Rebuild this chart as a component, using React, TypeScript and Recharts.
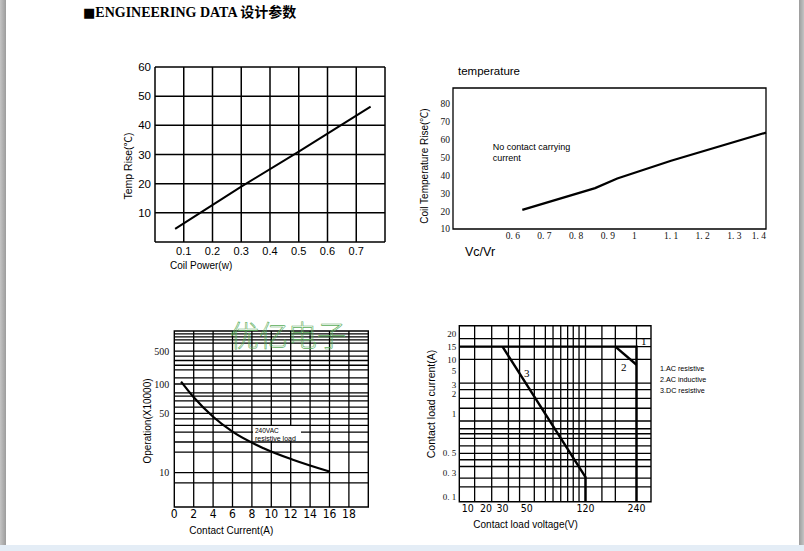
import React from 'react';
import {
  LineChart,
  Line,
  XAxis,
  YAxis,
  CartesianGrid,
  ReferenceLine,
  ReferenceArea,
} from 'recharts';

const SANS = 'Arial, "Liberation Sans", Helvetica, "Noto Sans CJK SC", sans-serif';
const NARROW = '"Liberation Sans Narrow", "DejaVu Sans Condensed", Arial, sans-serif';
const SERIF = '"Times New Roman", "Liberation Serif", "Noto Sans CJK SC", serif';

// 1. coil power vs temp rise
const COIL_POWER = [0.07, 0.3, 0.5, 0.75];
const TEMP_RISE = [4.5, 19, 31, 46.4];
const POWER_TICKS = [0, 0.1, 0.2, 0.3, 0.4, 0.5, 0.6, 0.7, 0.8];
const RISE_TICKS = [0, 10, 20, 30, 40, 50, 60];

// 2. Vc/Vr vs coil temperature rise
const VC_VR = [0.63, 0.86, 0.93, 1.1, 1.4];
const COIL_TEMP = [20.7, 32.9, 38.3, 48.2, 64];
const VR_TICKS = [0.6, 0.7, 0.8, 0.9, 1, 1.1, 1.2, 1.3, 1.4];
const COIL_TEMP_TICKS = [10, 20, 30, 40, 50, 60, 70, 80];

// 3. contact current vs operations (x10000)
const CONTACT_CURRENT = [0.7, 2, 4, 6, 9.2, 12.3, 16];
const OPERATIONS = [112, 73, 45.6, 30.4, 19.4, 14.1, 10.3];
const CURRENT_TICKS = [0, 2, 4, 6, 8, 10, 12, 14, 16, 18];
const CURRENT_GRID = [2, 4, 6, 8, 10, 12, 14, 16, 18];
const OP_LABELS = [10, 50, 100, 500];
const OP_GRID = [7.6, 10, 17.5, 23, 30, 36, 43, 50, 58, 67, 75, 81, 100, 135, 200, 250, 315, 390, 500, 730, 850, 980, 1130];
// printed graduation of the log axis: value -> fraction of axis height
const OP_STOPS: [number, number][] = [[4, 0], [10, 0.195], [50, 0.532], [100, 0.699], [500, 0.886], [1300, 1]];

// 4. contact load voltage vs current
const AC_RES_V = [7.2, 240, 240];
const AC_RES_A = [15, 15, 0.079];
const AC_IND_V = [180, 240];
const AC_IND_A = [15, 7.2];
const DC_RES_V = [30, 120, 120];
const DC_RES_A = [15, 0.25, 0.079];
const VOLT_LABELS = [10, 20, 30, 50, 120, 240];
const VOLT_GRID = [13, 23, 34, 43, 56, 66, 74, 83, 92, 100, 109, 120, 150, 180, 240];
const AMP_LABELS = [0.1, 0.3, 0.5, 1, 2, 3, 5, 10, 15, 20];
const AMP_GRID = [0.158, 0.24, 0.357, 0.424, 0.5, 0.569, 0.651, 0.706, 0.771, 0.884, 1.22, 1.72, 2.43, 3.2, 10, 15, 18];
const VOLT_STOPS: [number, number][] = [[7.2, 0], [10, 0.0438], [20, 0.1393], [30, 0.2254], [50, 0.3516], [120, 0.6583], [240, 0.9244], [292, 1]];
const AMP_STOPS: [number, number][] = [[0.079, 0], [0.1, 0.0284], [0.3, 0.1614], [0.5, 0.275], [1, 0.4983], [2, 0.612], [3, 0.663], [5, 0.744], [10, 0.809], [15, 0.881], [20, 0.953], [24, 1]];

function grad(v: number, stops: [number, number][]) {
  const lv = Math.log10(v);
  for (let i = 0; i < stops.length - 1; i++) {
    const [a, pa] = stops[i];
    const [b, pb] = stops[i + 1];
    if (v <= b || i === stops.length - 2) {
      const t = (lv - Math.log10(a)) / (Math.log10(b) - Math.log10(a));
      return pa + t * (pb - pa);
    }
  }
  return 0;
}

const opPos = (v: number) => grad(v, OP_STOPS);
const voltPos = (v: number) => grad(v, VOLT_STOPS);
const ampPos = (v: number) => grad(v, AMP_STOPS);

const serifNum = (v: number) => (v < 1 || (v > 1 && v < 2) ? v.toFixed(1).replace('.', '. ') : String(v));

const GRID_STROKE = '#000';

function Txt({
  x,
  y,
  size,
  children,
  font = SANS,
  weight = 400,
  rotate = false,
  color = '#000',
}: {
  x: number;
  y: number;
  size: number;
  children: React.ReactNode;
  font?: string;
  weight?: number;
  rotate?: boolean;
  color?: string;
}) {
  return (
    <div
      style={{
        position: 'absolute',
        left: x,
        top: y,
        fontSize: size,
        fontFamily: font,
        fontWeight: weight,
        lineHeight: 1,
        whiteSpace: 'nowrap',
        color,
        transform: rotate ? 'translate(-50%, -50%) rotate(-90deg)' : 'translateY(-50%)',
      }}
    >
      {children}
    </div>
  );
}

function VrTick(props: any) {
  const { x, y, payload } = props;
  const last = payload.value === 1.4;
  return (
    <text
      x={payload.value === 1 ? x - 5 : x}
      y={y}
      dy="0.71em"
      textAnchor={last ? 'end' : 'middle'}
      fontSize={9.5}
      fontFamily={SERIF}
      fill="#111"
    >
      {payload.value === 1 ? '1' : serifNum(payload.value)}
    </text>
  );
}

function CoilPowerChart() {
  const data = COIL_POWER.map((x, i) => ({ x, y: TEMP_RISE[i] }));
  return (
    <div style={{ position: 'absolute', left: 110, top: 55 }}>
      <LineChart width={290} height={212} margin={{ top: 12, right: 15, bottom: 0, left: 0 }}>
        <CartesianGrid stroke={GRID_STROKE} strokeWidth={1.5} />
        <XAxis
          type="number"
          dataKey="x"
          domain={[0, 0.8]}
          ticks={POWER_TICKS}
          interval={0}
          tickFormatter={(v: number) => (v === 0 || v === 0.8 ? '' : String(v))}
          axisLine={false}
          tickLine={false}
          tickSize={0}
          tickMargin={5}
          height={25}
          tick={{ fontSize: 11, fill: '#000', fontFamily: SANS }}
        />
        <YAxis
          type="number"
          domain={[0, 60]}
          ticks={RISE_TICKS}
          interval={0}
          tickFormatter={(v: number) => (v === 0 ? '' : String(v))}
          axisLine={false}
          tickLine={false}
          tickSize={0}
          tickMargin={4}
          width={45}
          tick={{ fontSize: 11.5, fill: '#000', fontFamily: SANS }}
        />
        <Line data={data} dataKey="y" type="linear" stroke="#000" strokeWidth={2} dot={false} isAnimationActive={false} />
      </LineChart>
    </div>
  );
}

function CoilTempChart() {
  const data = VC_VR.map((x, i) => ({ x, y: COIL_TEMP[i] }));
  return (
    <div style={{ position: 'absolute', left: 400, top: 80 }}>
      <LineChart width={380} height={169} margin={{ top: 8, right: 14, bottom: 0, left: 0 }}>
        <ReferenceArea x1={0.411} x2={1.4} y1={10} y2={89} fill="none" stroke="#000" strokeWidth={1.3} />
        <XAxis
          type="number"
          dataKey="x"
          domain={[0.411, 1.4]}
          ticks={VR_TICKS}
          interval={0}
          axisLine={false}
          tickLine={false}
          tickSize={0}
          tickMargin={3}
          height={20}
          tick={<VrTick />}
        />
        <YAxis
          type="number"
          domain={[10, 89]}
          ticks={COIL_TEMP_TICKS}
          interval={0}
          axisLine={false}
          tickLine={false}
          tickSize={0}
          tickMargin={3}
          width={53}
          tick={{ fontSize: 9.5, fill: '#111', fontFamily: SERIF }}
        />
        <Line data={data} dataKey="y" type="linear" stroke="#000" strokeWidth={2.2} dot={false} isAnimationActive={false} />
      </LineChart>
    </div>
  );
}

function OperationChart() {
  const data = CONTACT_CURRENT.map((x, i) => ({ x, y: opPos(OPERATIONS[i]) }));
  return (
    <div style={{ position: 'absolute', left: 120, top: 320 }}>
      <LineChart width={262} height={209} margin={{ top: 11, right: 13.7, bottom: 0, left: 0 }}>
        {CURRENT_GRID.map((v) => (
          <ReferenceLine key={'x' + v} x={v} stroke={GRID_STROKE} strokeWidth={1.3} />
        ))}
        {OP_GRID.map((v) => (
          <ReferenceLine key={'y' + v} y={opPos(v)} stroke={GRID_STROKE} strokeWidth={1.3} />
        ))}
        <ReferenceArea x1={0} x2={20} y1={0} y2={1} fill="none" stroke="#000" strokeWidth={1.4} />
        <XAxis
          type="number"
          dataKey="x"
          domain={[0, 20]}
          ticks={CURRENT_TICKS}
          interval={0}
          axisLine={false}
          tickLine={false}
          tickSize={0}
          tickMargin={2}
          height={22}
          tick={{ fontSize: 12, fill: '#000', fontFamily: NARROW }}
        />
        <YAxis
          type="number"
          domain={[0, 1]}
          ticks={OP_LABELS.map(opPos)}
          interval={0}
          tickFormatter={(_v: number, i: number) => String(OP_LABELS[i])}
          axisLine={false}
          tickLine={false}
          tickSize={0}
          tickMargin={5}
          width={54.3}
          tick={{ fontSize: 10, fill: '#111', fontFamily: SERIF }}
        />
        <Line data={data} dataKey="y" type="monotone" stroke="#000" strokeWidth={2.2} dot={false} isAnimationActive={false} />
      </LineChart>
    </div>
  );
}

function LoadChart() {
  const series = [
    { name: 'AC resistive', v: AC_RES_V, a: AC_RES_A },
    { name: 'AC inductive', v: AC_IND_V, a: AC_IND_A },
    { name: 'DC resistive', v: DC_RES_V, a: DC_RES_A },
  ];
  return (
    <div style={{ position: 'absolute', left: 400, top: 315 }}>
      <LineChart width={260} height={206.7} margin={{ top: 10.7, right: 9, bottom: 0, left: 0 }}>
        {VOLT_GRID.map((v) => (
          <ReferenceLine key={'x' + v} x={voltPos(v)} stroke={GRID_STROKE} strokeWidth={1.3} />
        ))}
        {AMP_GRID.map((v) => (
          <ReferenceLine key={'y' + v} y={ampPos(v)} stroke={GRID_STROKE} strokeWidth={1.3} />
        ))}
        <ReferenceArea x1={0} x2={1} y1={0} y2={1} fill="none" stroke="#000" strokeWidth={1.4} />
        <XAxis
          type="number"
          dataKey="x"
          domain={[0, 1]}
          ticks={VOLT_LABELS.map(voltPos)}
          interval={0}
          tickFormatter={(_v: number, i: number) => String(VOLT_LABELS[i])}
          axisLine={false}
          tickLine={false}
          tickSize={0}
          tickMargin={3}
          height={20}
          tick={{ fontSize: 10.5, fill: '#000', fontFamily: NARROW }}
        />
        <YAxis
          type="number"
          domain={[0, 1]}
          ticks={AMP_LABELS.map(ampPos)}
          interval={0}
          tickFormatter={(_v: number, i: number) => serifNum(AMP_LABELS[i])}
          axisLine={false}
          tickLine={false}
          tickSize={0}
          tickMargin={3}
          width={59.3}
          tick={{ fontSize: 9, fill: '#111', fontFamily: SERIF }}
        />
        {series.map((s) => (
          <Line
            key={s.name}
            name={s.name}
            data={s.v.map((v, i) => ({ x: voltPos(v), y: ampPos(s.a[i]) }))}
            dataKey="y"
            type="linear"
            stroke="#000"
            strokeWidth={2.4}
            dot={false}
            isAnimationActive={false}
          />
        ))}
      </LineChart>
    </div>
  );
}

export default function App() {
  return (
    <div
      style={{
        position: 'absolute',
        left: 0,
        top: 0,
        width: 804,
        height: 551,
        background: '#fff',
        overflow: 'hidden',
        fontFamily: SANS,
      }}
    >
      <div style={{ position: 'absolute', left: 0, top: 0, width: 6, height: 551, background: 'linear-gradient(90deg, #c4c4c4, #9c9c9c)' }} />
      <div style={{ position: 'absolute', right: 0, top: 0, width: 5, height: 551, background: 'linear-gradient(90deg, #9c9c9c, #c4c4c4)' }} />
      <div style={{ position: 'absolute', left: 0, top: 545, width: 804, height: 6, background: '#e4edf6' }} />

      <Txt x={83} y={13} size={14} font={SERIF} weight={700}>
        <span style={{ fontFamily: '"DejaVu Sans", sans-serif', fontSize: 13 }}>■</span>ENGINEERING DATA 设计参数
      </Txt>

      <CoilPowerChart />
      <Txt x={128.3} y={165.5} size={10.5} rotate>
        Temp Rise(℃)
      </Txt>
      <Txt x={170} y={266} size={10}>
        Coil Power(w)
      </Txt>

      <CoilTempChart />
      <Txt x={458} y={72.3} size={11.5}>
        temperature
      </Txt>
      <Txt x={425} y={165.8} size={10} rotate>
        Coil Temperature Rise(℃)
      </Txt>
      <Txt x={492.7} y={146.7} size={9}>
        No contact carrying
      </Txt>
      <Txt x={492.7} y={158.3} size={9}>
        current
      </Txt>
      <Txt x={465} y={251.7} size={12.5}>
        Vc/Vr
      </Txt>

      <OperationChart />
      <div style={{ position: 'absolute', left: 253, top: 426, width: 48, height: 15, background: '#fff' }} />
      <Txt x={255} y={430.5} size={6.5}>
        240VAC
      </Txt>
      <Txt x={255} y={437.5} size={7}>
        resistive load
      </Txt>
      <Txt x={148.3} y={420.5} size={10} rotate>
        Operation(X10000)
      </Txt>
      <Txt x={189.3} y={530.7} size={10}>
        Contact Current(A)
      </Txt>
      <div
        style={{
          position: 'absolute',
          left: 230,
          top: 320,
          fontSize: 29,
          lineHeight: 1,
          fontFamily: '"Noto Sans CJK SC", sans-serif',
          fontWeight: 200,
          color: 'transparent',
          WebkitTextStroke: '0.6px #5aae5a',
          whiteSpace: 'nowrap',
        }}
      >
        优亿电子
      </div>

      <LoadChart />
      <Txt x={430.7} y={404} size={10.5} rotate>
        Contact load current(A)
      </Txt>
      <Txt x={473.3} y={525} size={10}>
        Contact load voltage(V)
      </Txt>
      <Txt x={641} y={340.7} size={11} font={SERIF}>
        1
      </Txt>
      <Txt x={621} y={367} size={11} font={SERIF}>
        2
      </Txt>
      <Txt x={524} y={373.3} size={11} font={SERIF}>
        3
      </Txt>
      <Txt x={660} y={369.3} size={7.2}>
        1.AC resistive
      </Txt>
      <Txt x={660} y={380} size={7.2}>
        2.AC inductive
      </Txt>
      <Txt x={660} y={391} size={7.2}>
        3.DC resistive
      </Txt>
    </div>
  );
}
